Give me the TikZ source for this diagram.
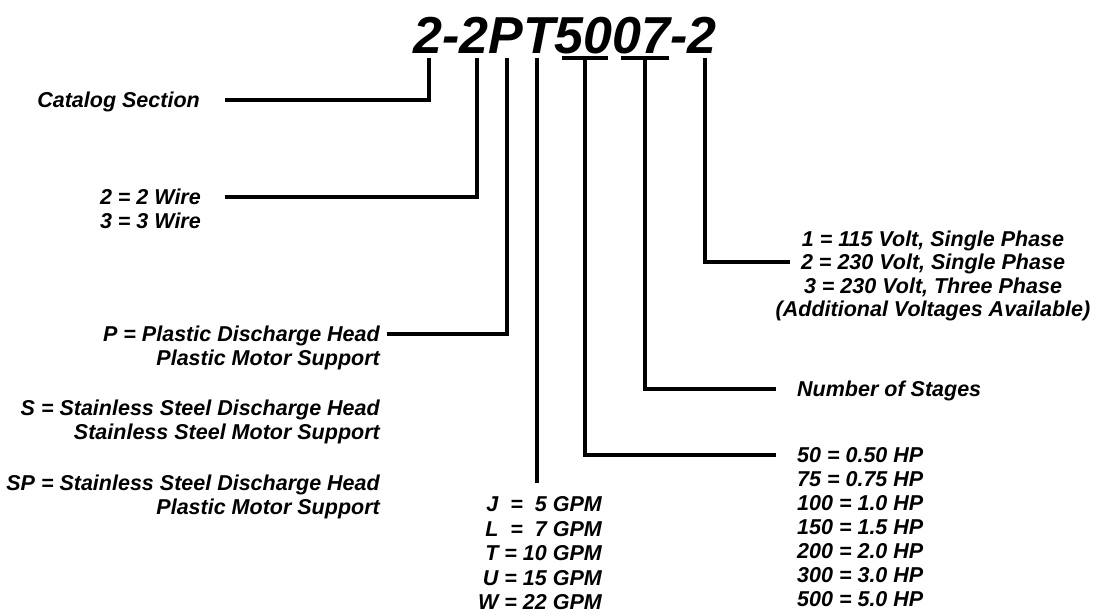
\documentclass[tikz,border=0pt]{standalone}
\usepackage{fontspec}
\setmainfont{Liberation Sans}
\tikzset{
  lbl/.style={inner sep=0pt, font=\fontsize{21.5}{24}\selectfont\bfseries\itshape},
  ttl/.style={inner sep=0pt, font=\fontsize{52}{60}\selectfont\bfseries\itshape},
  conn/.style={line width=3.5pt, line join=miter},
}
\begin{document}
\begin{tikzpicture}[x=1pt,y=-1pt]
\useasboundingbox (0,0) rectangle (1097,613);
% title
\node[ttl, anchor=base west] (title) at (413,53) {2-2PT5007-2};
% connection points under the title
\coordinate (k1) at (429,58);
\coordinate (k2) at (477,58);
\coordinate (k3) at (507,58);
\coordinate (k4) at (537,58);
\coordinate (k5) at (585,58);
\coordinate (k6) at (645,58);
\coordinate (k7) at (705,58);
\coordinate (u5a) at (562,58);
\coordinate (u5b) at (608,58);
\coordinate (u7a) at (621,58);
\coordinate (u7b) at (669,58);
\draw[conn] (u5a) -- (u5b);
\draw[conn] (u7a) -- (u7b);
% catalog section
\node[lbl, anchor=base east] (cat) at (200,107.7) {Catalog Section};
\coordinate (catR) at (225,100);
\draw[conn] (k1) |- (catR);
% wire
\node[lbl, anchor=base east] (w1) at (201,204.7) {2 = 2 Wire};
\node[lbl, anchor=base east] (w2) at (201,228.7) {3 = 3 Wire};
\coordinate (wR) at (225,197);
\draw[conn] (k2) |- (wR);
% discharge head
\node[lbl, anchor=base east] (p1) at (380,341.7) {P = Plastic Discharge Head};
\node[lbl, anchor=base east] (p2) at (380,365.7) {Plastic Motor Support};
\node[lbl, anchor=base east] (s1) at (380,415.5) {S = Stainless Steel Discharge Head};
\node[lbl, anchor=base east] (s2) at (380,439.5) {Stainless Steel Motor Support};
\node[lbl, anchor=base east] (sp1) at (380,490.5) {SP = Stainless Steel Discharge Head};
\node[lbl, anchor=base east] (sp2) at (380,514.5) {Plastic Motor Support};
\coordinate (pR) at (387,334);
\draw[conn] (k3) |- (pR);
% flow
\node[lbl, anchor=base east] (j1) at (602,511.5) {J\ \ =\ \ 5 GPM};
\node[lbl, anchor=base east] (j2) at (602,536) {L\ \ =\ \ 7 GPM};
\node[lbl, anchor=base east] (j3) at (602,560.5) {T = 10 GPM};
\node[lbl, anchor=base east] (j4) at (602,585) {U = 15 GPM};
\node[lbl, anchor=base east] (j5) at (602,609.5) {W = 22 GPM};
\coordinate (jT) at (537,483);
\draw[conn] (k4) -- (jT);
% horsepower
\node[lbl, anchor=base west] (h1) at (797,462.7) {50 = 0.50 HP};
\node[lbl, anchor=base west] (h2) at (797,486.7) {75 = 0.75 HP};
\node[lbl, anchor=base west] (h3) at (797,510.7) {100 = 1.0 HP};
\node[lbl, anchor=base west] (h4) at (797,534.7) {150 = 1.5 HP};
\node[lbl, anchor=base west] (h5) at (797,558.7) {200 = 2.0 HP};
\node[lbl, anchor=base west] (h6) at (797,582.7) {300 = 3.0 HP};
\node[lbl, anchor=base west] (h7) at (797,606.7) {500 = 5.0 HP};
\coordinate (hL) at (776,455);
\draw[conn] (k5) |- (hL);
% stages
\node[lbl, anchor=base west] (st) at (797,396.7) {Number of Stages};
\coordinate (stL) at (776,389);
\draw[conn] (k6) |- (stL);
% voltage
\node[lbl, anchor=base] (v1) at (933,246.2) {1 = 115 Volt, Single Phase};
\node[lbl, anchor=base] (v2) at (933,269.7) {2 = 230 Volt, Single Phase};
\node[lbl, anchor=base] (v3) at (933,293.2) {3 = 230 Volt, Three Phase};
\node[lbl, anchor=base] (v4) at (933,316.7) {(Additional Voltages Available)};
\coordinate (vL) at (790,262);
\draw[conn] (k7) |- (vL);
\end{tikzpicture}
\end{document}
